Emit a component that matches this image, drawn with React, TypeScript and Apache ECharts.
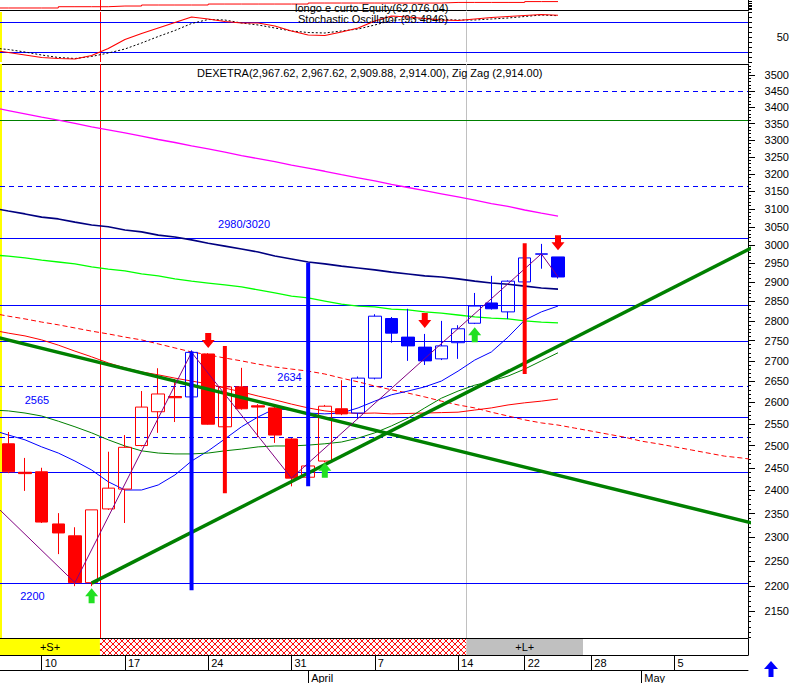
import React, { useEffect, useRef } from "react";
import * as echarts from "echarts";

// ---------- DATA ----------
const days = [
  "2014-03-05", "2014-03-06", "2014-03-07", "2014-03-10", "2014-03-11", "2014-03-12", "2014-03-13", "2014-03-14",
  "2014-03-17", "2014-03-18", "2014-03-19", "2014-03-20", "2014-03-21", "2014-03-24", "2014-03-25", "2014-03-26",
  "2014-03-27", "2014-03-28", "2014-03-31", "2014-04-01", "2014-04-02", "2014-04-03", "2014-04-04", "2014-04-07",
  "2014-04-08", "2014-04-09", "2014-04-10", "2014-04-11", "2014-04-14", "2014-04-15", "2014-04-16", "2014-04-17",
  "2014-04-22", "2014-04-23", "2014-04-24", "2014-04-25", "2014-04-28", "2014-04-29", "2014-04-30", "2014-05-01",
  "2014-05-02", "2014-05-05", "2014-05-06", "2014-05-07", "2014-05-08", "2014-05-09", "2014-05-12",
];
const monthNames: Record<string, string> = { "03": "March", "04": "April", "05": "May" };

// candles from 2014-03-06 to 2014-04-24
const candleFirstDay = "2014-03-06";
const opens = [2504, 2440, 2441, 2328, 2303, 2207, 2360, 2403, 2500, 2578, 2614, 2613, 2717, 2543, 2637, 2592, 2587, 2515, 2429, 2465, 2585, 2575, 2658, 2806, 2759, 2734, 2705, 2745, 2794, 2846, 2823, 2901, 2975, 2967.62];
const highs = [2531, 2472, 2450, 2351, 2321, 2358, 2486, 2524, 2627, 2682, 2656, 2726, 2719, 2640, 2683, 2596, 2590, 2517, 2458, 2594, 2653, 2662, 2817, 2810, 2831, 2767, 2800, 2789, 2872, 2917, 2905, 2968, 3003, 2967.62];
const lows = [2438, 2399, 2330, 2265, 2200, 2200, 2358, 2330, 2498, 2529, 2554, 2611, 2548, 2540, 2583, 2519, 2506, 2409, 2426, 2462, 2570, 2561, 2655, 2745, 2700, 2690, 2702, 2705, 2792, 2829, 2805, 2898, 2936, 2909.88];
const closes = [2441, 2437, 2332, 2309, 2207, 2358, 2405, 2496, 2589, 2620, 2611, 2721, 2549, 2637, 2585, 2589, 2524, 2427, 2454, 2591, 2573, 2658, 2812, 2769, 2737, 2700, 2737, 2780, 2838, 2831, 2903, 2965, 2976, 2914];
const candleTone = ["r", "r", "r", "r", "r", "r", "r", "r", "r", "r", "r", "b", "r", "r", "r", "r", "r", "r", "r", "r", "r", "b", "b", "b", "b", "b", "b", "b", "b", "b", "b", "b", "b", "b"];

// moving averages from 2014-03-05
const magentaMA = [3400, 3390, 3380, 3370, 3361, 3351, 3340, 3331, 3322, 3312, 3302, 3293, 3283, 3274, 3264, 3254, 3245, 3236, 3226, 3217, 3208, 3198, 3189, 3180, 3170, 3161, 3152, 3143, 3134, 3125, 3115, 3107, 3097, 3088, 3080];
const navyMA = [3103, 3094, 3086, 3077, 3072, 3063, 3055, 3050, 3041, 3036, 3027, 3022, 3014, 3005, 2997, 2989, 2981, 2970, 2962, 2954, 2949, 2943, 2938, 2933, 2927, 2922, 2917, 2914, 2909, 2903, 2898, 2895, 2890, 2885, 2882];
const limeMA = [2973, 2970, 2965, 2959, 2954, 2949, 2941, 2935, 2930, 2922, 2917, 2909, 2903, 2898, 2893, 2888, 2880, 2872, 2864, 2859, 2851, 2843, 2838, 2836, 2830, 2828, 2823, 2820, 2815, 2810, 2807, 2805, 2800, 2797, 2795];
const redMA = [2777, 2769, 2762, 2752, 2739, 2724, 2710, 2695, 2683, 2673, 2666, 2658, 2651, 2644, 2634, 2625, 2615, 2606, 2596, 2587, 2580, 2576, 2574, 2575, 2573, 2574, 2575, 2576, 2577, 2582, 2587, 2594, 2599, 2603, 2608];
const redShiftedMA = [2820, 2812, 2805, 2797, 2790, 2782, 2774, 2767, 2759, 2752, 2742, 2732, 2722, 2715, 2707, 2700, 2692, 2685, 2680, 2675, 2668, 2658, 2649, 2639, 2630, 2622, 2613, 2603, 2594, 2587, 2577, 2568, 2559, 2552, 2547, 2540, 2533, 2526, 2519, 2510, 2504, 2497, 2490, 2483, 2476, 2472, 2467];
const blueMA = [2536, 2524, 2513, 2497, 2483, 2465, 2445, 2419, 2401, 2401, 2412, 2434, 2465, 2488, 2515, 2543, 2566, 2585, 2582, 2575, 2573, 2575, 2587, 2603, 2618, 2627, 2637, 2651, 2675, 2702, 2722, 2759, 2802, 2823, 2838];
const greenMA = [2582, 2580, 2575, 2568, 2556, 2543, 2529, 2513, 2499, 2488, 2483, 2481, 2481, 2483, 2488, 2492, 2497, 2499, 2499, 2501, 2504, 2508, 2517, 2529, 2545, 2563, 2587, 2610, 2627, 2641, 2651, 2663, 2680, 2700, 2720];

// stochastic and equity from 2014-03-05
const stochK = [24, 19, 14, 9, 7, 6, 13, 27, 45, 57, 68, 79, 90, 86, 81, 78, 78, 72, 62, 54, 53, 60, 68, 82, 92, 90, 87, 84, 83, 86, 89, 91, 93, 95, 93.48];
const stochD = [28, 25, 20, 14, 9, 7, 11, 18, 26, 38, 51, 63, 77, 85, 84, 78, 74, 68, 62, 59, 58, 62, 66, 74, 83, 86, 86, 85, 84, 84, 86, 88, 91, 94, 92.6];
const stochLevels = [20, 80];
const equity = [46200, 46200, 46200, 46200, 49400, 49400, 49400, 51100, 51100, 53600, 53600, 53600, 53600, 56000, 56000, 56000, 56000, 56000, 56000, 58500, 58500, 58500, 58500, 58500, 58500, 58500, 58500, 60000, 60000, 60000, 60000, 60000, 62076.04, 62076.04, 62076.04];

const zigZag: [string, number][] = [["2014-03-05", 2375], ["2014-03-12", 2207], ["2014-03-21", 2721], ["2014-03-31", 2427], ["2014-04-23", 2976], ["2014-04-24", 2914]];
const trendDown: [string, number][] = [["2014-03-05", 2762], ["2014-05-12", 2327]];
const trendUp: [string, number][] = [["2014-03-13", 2206], ["2014-05-12", 3001]];
const spikes: [string, number, number, string][] = [["2014-03-21", 2192, 2723, "b"], ["2014-03-25", 2394, 2737, "r"], ["2014-04-01", 2409, 2952, "b"], ["2014-04-22", 2668, 3005, "r"]];
const signals: [string, number, string][] = [["2014-03-24", 2732, "sell"], ["2014-04-10", 2782, "sell"], ["2014-04-24", 2986, "sell"], ["2014-03-13", 2196, "buy"], ["2014-04-02", 2461, "buy"], ["2014-04-15", 2784, "buy"]];
const levels: [number, string][] = [[3450, "dash"], [3360, "green"], [3165, "dash"], [3020, "solid"], [2840, "solid"], [2750, "solid"], [2640, "dash"], [2565, "solid"], [2520, "dash"], [2440, "solid"], [2206, "solid"]];
const levelNotes: [string, number][] = [["2980/3020", 3020], ["2634", 2640], ["2565", 2565], ["2200", 2206]];
const strategy = [
  { from: "2014-03-06", to: "2014-03-13", side: "+S+" },
  { from: "2014-03-14", to: "2014-04-14", side: "flat" },
  { from: "2014-04-15", to: "2014-04-25", side: "+L+" },
];
const priceTicks = [2150, 2200, 2250, 2300, 2350, 2400, 2450, 2500, 2550, 2600, 2650, 2700, 2750, 2800, 2850, 2900, 2950, 3000, 3050, 3100, 3150, 3200, 3250, 3300, 3350, 3400, 3450, 3500];
const stochTicks = [50];

// ---------- LAYOUT / STYLE ----------
const FONT = "'Liberation Sans', Arial, sans-serif";
const X_MIN = 0.5;
const X_MAX = 45.406;
const PRICE_MIN = 2098.7;
const PRICE_MAX = 3536.6;
const LN = Math.log;
const pos = (d: string) => days.indexOf(d);
const RED = "#ff0000";
const BLUE = "#0000ff";
const notePlacement = [{ p: 15.15, dy: -14 }, { p: 17.88, dy: -9 }, { p: 2.72, dy: -17 }, { p: 2.45, dy: 13 }];

function buildOption(): any {
  const c0 = pos(candleFirstDay);
  const dow = (d: string) => new Date(d + "T00:00:00Z").getUTCDay();
  const idx = days.map((_, i) => i);
  const weekStarts = idx.filter((i) => i > 0 && dow(days[i]) < dow(days[i - 1]) && i < X_MAX);
  const monthStarts = idx.filter((i) => i > 0 && days[i].slice(5, 7) !== days[i - 1].slice(5, 7) && i < X_MAX);
  const minorTicks: number[] = [];
  for (let v = 2100; v <= 3530; v += 10) minorTicks.push(LN(v));

  const shortStart = pos(strategy[0].from) - 0.5;
  const flatStart = pos(strategy[1].from) - 0.5;
  const longStart = pos(strategy[2].from) - 0.5;

  const ml = (data: any[], z = 1) => ({ silent: true, symbol: ["none", "none"], label: { show: false }, z, data });
  const vLines = [
    { xAxis: flatStart, lineStyle: { color: RED, type: "solid", width: 1 } },
    { xAxis: longStart, lineStyle: { color: "#c0c0c0", type: "solid", width: 1 } },
    { xAxis: shortStart + 0.06, lineStyle: { color: "#ffff00", type: "solid", width: 2 } },
  ];

  const xHidden = (gi: number, offset = 0) => ({
    type: "value", gridIndex: gi, min: X_MIN, max: X_MAX, offset,
    axisLine: { show: true, onZero: false, lineStyle: { color: "#000", width: 1 } },
    axisTick: { show: false }, axisLabel: { show: false }, splitLine: { show: false },
  });

  const maLine = (arr: number[], color: string, width: number, type: any = "solid", z = 2) => ({
    type: "line", xAxisIndex: 2, yAxisIndex: 2, z, showSymbol: false, symbol: "none", silent: true,
    data: arr.map((v, i) => [i, LN(v)]),
    lineStyle: { color, width, type },
  });

  const candle = (tone: string, color: string) => ({
    type: "candlestick", xAxisIndex: 2, yAxisIndex: 2, z: 3, barWidth: 13, silent: true,
    data: opens
      .map((o, k) => (candleTone[k] === tone ? [c0 + k, LN(o), LN(closes[k]), LN(lows[k]), LN(highs[k])] : null))
      .filter((d) => d !== null),
    itemStyle: { color: "transparent", color0: color, borderColor: color, borderColor0: color, borderWidth: 1 },
  });

  const pairLine = (pts: [string, number][], color: string, width: number, z: number) => ({
    type: "line", xAxisIndex: 2, yAxisIndex: 2, z, showSymbol: false, symbol: "none", silent: true,
    data: pts.map(([d, v]) => [pos(d), LN(v)]),
    lineStyle: { color, width },
  });

  // horizontal level lines drawn through the axes' scales
  const hLevels = (xi: number, yi: number, vals: number[], styleOf: (i: number) => any, z: number) => ({
    type: "custom", xAxisIndex: xi, yAxisIndex: yi, z, silent: true,
    data: vals.map((v) => [X_MIN, v]),
    renderItem: (params: any, api: any) => {
      const a = api.coord([X_MIN, api.value(1)]);
      const b = api.coord([X_MAX, api.value(1)]);
      const y = Math.round(a[1]) + 0.5;
      const st = styleOf(params.dataIndex);
      return {
        type: "line",
        shape: { x1: a[0], y1: y, x2: b[0], y2: y },
        style: { stroke: st.color, lineWidth: 1, lineDash: st.dash || null },
      };
    },
  });

  const titleStyle = { fontSize: 11, fontWeight: "normal", color: "#000", fontFamily: FONT, lineHeight: 10 };

  return {
    animation: false,
    backgroundColor: "#ffffff",
    textStyle: { fontFamily: FONT },
    title: [
      { text: "longo e curto Equity(62,076.04)", left: 295, top: 3, padding: 0, textStyle: titleStyle },
      { text: "Stochastic Oscillator (93.4846)", left: 298, top: 14, padding: 0, textStyle: titleStyle },
      { text: "DEXETRA(2,967.62, 2,967.62, 2,909.88, 2,914.00), Zig Zag (2,914.00)", left: 197, top: 68, padding: 0, textStyle: titleStyle },
    ],
    grid: [
      { left: 0, right: 47, top: 0, height: 10.5 },
      { left: 0, right: 47, top: 12, height: 50 },
      { left: 0, right: 47, top: 64, height: 574 },
      { left: 0, right: 47, top: 639, height: 16 },
    ],
    xAxis: [
      xHidden(0),
      xHidden(1, 2),
      xHidden(2),
      {
        type: "value", gridIndex: 3, min: X_MIN, max: X_MAX, position: "bottom",
        axisLine: { show: true, onZero: false, lineStyle: { color: "#000", width: 1 } },
        axisTick: { show: true, customValues: weekStarts, length: 15, lineStyle: { color: "#000" } },
        axisLabel: {
          show: true, customValues: weekStarts, align: "left", padding: [0, 0, 0, 3], margin: 2,
          fontSize: 11, color: "#000", fontFamily: FONT,
          formatter: (v: number) => String(Number(days[Math.round(v)].slice(8))),
        },
        splitLine: { show: false },
      },
      {
        type: "value", gridIndex: 3, min: X_MIN, max: X_MAX, position: "bottom", offset: 15,
        axisLine: { show: true, onZero: false, lineStyle: { color: "#000", width: 1 } },
        axisTick: { show: true, customValues: monthStarts, length: 13, lineStyle: { color: "#000" } },
        axisLabel: {
          show: true, customValues: monthStarts, align: "left", padding: [0, 0, 0, 3], margin: 2,
          fontSize: 11, color: "#000", fontFamily: FONT,
          formatter: (v: number) => monthNames[days[Math.round(v)].slice(5, 7)],
        },
        splitLine: { show: false },
      },
    ],
    yAxis: [
      {
        type: "value", gridIndex: 0, min: 40000, max: 66000, position: "right",
        axisLine: { show: true, onZero: false, lineStyle: { color: "#000" } },
        axisTick: { show: true, customValues: [42000, 46000, 50000, 54000, 58000, 62000], length: 4, lineStyle: { color: "#000" } },
        axisLabel: { show: false }, splitLine: { show: false },
      },
      {
        type: "value", gridIndex: 1, min: 0, max: 100, position: "right",
        axisLine: { show: true, onZero: false, lineStyle: { color: "#000" } },
        axisTick: { show: true, customValues: [0, 10, 20, 30, 40, 50, 60, 70, 80, 90, 100], length: 4, lineStyle: { color: "#000" } },
        axisLabel: { show: true, customValues: stochTicks, align: "right", margin: 41, fontSize: 11, color: "#000", fontFamily: FONT },
        splitLine: { show: false },
      },
      {
        type: "value", gridIndex: 2, min: LN(PRICE_MIN), max: LN(PRICE_MAX), position: "right",
        axisLine: { show: true, onZero: false, lineStyle: { color: "#000" } },
        axisTick: { show: true, customValues: minorTicks, length: 3, lineStyle: { color: "#000" } },
        axisLabel: {
          show: true, customValues: priceTicks.map((v) => LN(v)), align: "right", margin: 41,
          fontSize: 11, color: "#000", fontFamily: FONT,
          formatter: (v: number) => String(Math.round(Math.exp(v))),
        },
        splitLine: { show: false },
      },
      {
        type: "value", gridIndex: 2, min: LN(PRICE_MIN), max: LN(PRICE_MAX), position: "right",
        axisLine: { show: false },
        axisTick: { show: true, customValues: priceTicks.map((v) => LN(v)), length: 7, lineStyle: { color: "#000" } },
        axisLabel: { show: false }, splitLine: { show: false },
      },
      {
        type: "value", gridIndex: 3, min: 0, max: 1, position: "right",
        axisLine: { show: true, onZero: false, lineStyle: { color: "#000" } },
        axisTick: { show: false }, axisLabel: { show: false }, splitLine: { show: false },
      },
    ],
    series: [
      // equity
      {
        type: "line", xAxisIndex: 0, yAxisIndex: 0, step: "end", showSymbol: false, symbol: "none", silent: true,
        data: equity.map((v, i) => [i, v]), lineStyle: { color: RED, width: 1 },
        markLine: ml(vLines.slice(0, 2)),
      },
      // stochastic
      hLevels(1, 1, stochLevels, () => ({ color: BLUE }), 1),
      {
        type: "line", xAxisIndex: 1, yAxisIndex: 1, showSymbol: false, symbol: "none", silent: true, z: 3,
        data: stochK.map((v, i) => [i, v]), lineStyle: { color: RED, width: 1.2 },
        markLine: ml(vLines),
      },
      {
        type: "line", xAxisIndex: 1, yAxisIndex: 1, showSymbol: false, symbol: "none", silent: true, z: 2,
        data: stochD.map((v, i) => [i, v]), lineStyle: { color: "#000", width: 1, type: [2, 2] },
      },
      // price levels + verticals
      hLevels(2, 2, levels.map(([v]) => LN(v)), (i) => {
        const s = levels[i][1];
        return { color: s === "green" ? "#008000" : BLUE, dash: s === "dash" ? [5, 4] : null };
      }, 1),
      {
        type: "line", xAxisIndex: 2, yAxisIndex: 2, showSymbol: false, symbol: "none", silent: true, z: 1,
        data: [[X_MIN, LN(3000)]], lineStyle: { width: 0, opacity: 0 },
        markLine: ml(vLines, 1),
      },
      maLine(magentaMA, "#ff00ff", 1.3),
      maLine(navyMA, "#000080", 1.6),
      maLine(limeMA, "#00ff00", 1.3),
      maLine(redMA, RED, 1),
      maLine(redShiftedMA, RED, 1, [5, 3]),
      maLine(blueMA, BLUE, 1),
      maLine(greenMA, "#008000", 1),
      candle("r", RED),
      candle("b", BLUE),
      pairLine(trendDown, "#008000", 3.5, 4),
      pairLine(trendUp, "#008000", 3.5, 4),
      pairLine(zigZag, "#800080", 1, 5),
      // spikes
      {
        type: "custom", xAxisIndex: 2, yAxisIndex: 2, z: 6, silent: true,
        data: spikes.map(([d, lo, hi]) => [pos(d), LN(lo), LN(hi)]),
        renderItem: (params: any, api: any) => {
          const s = spikes[params.dataIndex];
          const lo = api.coord([api.value(0), api.value(1)]);
          const hi = api.coord([api.value(0), api.value(2)]);
          return {
            type: "rect",
            shape: { x: lo[0] - 2, y: hi[1], width: 4, height: lo[1] - hi[1] },
            style: { fill: s[3] === "r" ? RED : BLUE },
          };
        },
      },
      // signal arrows
      {
        type: "custom", xAxisIndex: 2, yAxisIndex: 2, z: 7, silent: true,
        data: signals.map(([d, v]) => [pos(d), LN(v)]),
        renderItem: (params: any, api: any) => {
          const sig = signals[params.dataIndex];
          const [x, y] = api.coord([api.value(0), api.value(1)]);
          const s = sig[2] === "sell" ? -1 : 1;
          const pts = [
            [x, y], [x - 6.5, y + 8 * s], [x - 3, y + 8 * s], [x - 3, y + 15 * s],
            [x + 3, y + 15 * s], [x + 3, y + 8 * s], [x + 6.5, y + 8 * s],
          ];
          return { type: "polygon", shape: { points: pts }, style: { fill: sig[2] === "sell" ? RED : "#22e022" } };
        },
      },
      // level notes
      {
        type: "custom", xAxisIndex: 2, yAxisIndex: 2, z: 8, silent: true,
        data: levelNotes.map(([, v], i) => [notePlacement[i].p, LN(v)]),
        renderItem: (params: any, api: any) => {
          const n = levelNotes[params.dataIndex];
          const [x, y] = api.coord([api.value(0), api.value(1)]);
          return {
            type: "text",
            x, y: y + notePlacement[params.dataIndex].dy,
            style: {
              text: n[0], fill: BLUE, font: `11px ${FONT}`,
              textAlign: "center", textVerticalAlign: "middle", align: "center", verticalAlign: "middle",
            },
          };
        },
      },
      // strategy strip
      {
        type: "custom", xAxisIndex: 3, yAxisIndex: 4, z: 2, silent: true,
        data: strategy.map((s) => [pos(s.from) - 0.5, pos(s.to) + 0.5]),
        renderItem: (params: any, api: any) => {
          const seg = strategy[params.dataIndex];
          const a = api.coord([api.value(0), 1]);
          const b = api.coord([api.value(1), 0]);
          const x0 = a[0], x1 = b[0], y0 = a[1], y1 = b[1];
          const h = y1 - y0;
          const children: any[] = [];
          if (seg.side === "flat") {
            children.push({ type: "rect", shape: { x: x0, y: y0, width: x1 - x0, height: h }, style: { fill: "#fff" } });
            for (let c = x0 - h; c < x1; c += 6) {
              const sx = Math.max(x0, c);
              const ex = Math.min(x1, c + h);
              if (ex > sx) {
                children.push({ type: "line", shape: { x1: sx, y1: y0 + (sx - c), x2: ex, y2: y0 + (ex - c) }, style: { stroke: RED, lineWidth: 1 } });
                children.push({ type: "line", shape: { x1: sx, y1: y1 - (sx - c), x2: ex, y2: y1 - (ex - c) }, style: { stroke: RED, lineWidth: 1 } });
              }
            }
          } else {
            children.push({
              type: "rect", shape: { x: x0, y: y0, width: x1 - x0, height: h },
              style: { fill: seg.side === "+S+" ? "#ffff00" : "#c0c0c0" },
            });
            children.push({
              type: "text", x: (x0 + x1) / 2, y: y0 + h / 2,
              style: {
                text: seg.side, fill: "#000", font: `11px ${FONT}`,
                textAlign: "center", textVerticalAlign: "middle", align: "center", verticalAlign: "middle",
              },
            });
          }
          return { type: "group", children };
        },
      },
    ],
    graphic: [
      {
        type: "polygon",
        shape: { points: [[771, 661], [778, 669], [773.5, 669], [773.5, 677], [768.5, 677], [768.5, 669], [764, 669]] },
        style: { fill: BLUE },
      },
    ],
  };
}

export default function App() {
  const ref = useRef<HTMLDivElement>(null);
  useEffect(() => {
    if (!ref.current) return;
    const chart = echarts.init(ref.current, null, { renderer: "svg" });
    chart.setOption(buildOption());
    return () => chart.dispose();
  }, []);
  return (
    <div
      ref={ref}
      style={{ position: "fixed", left: 0, top: 0, width: 795, height: 683, background: "#ffffff" }}
    />
  );
}
